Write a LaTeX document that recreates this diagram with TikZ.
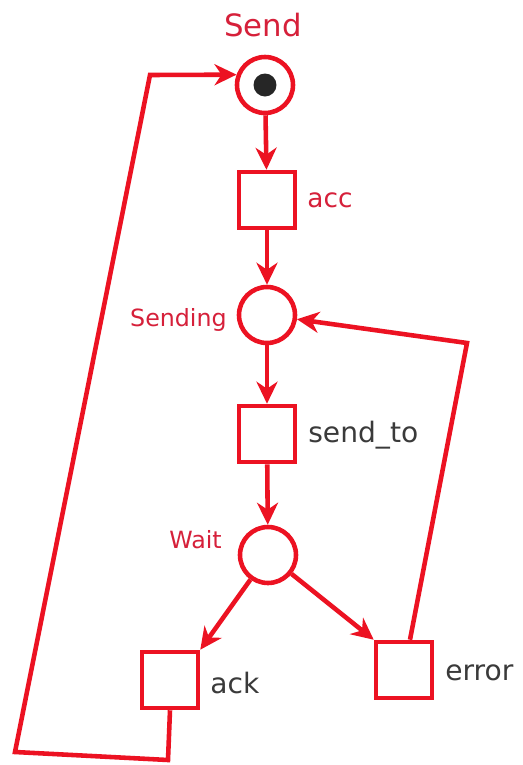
\documentclass[tikz,border=0pt]{standalone}
\usepackage{fontspec}
\setmainfont{DejaVu Sans}
\usetikzlibrary{arrows.meta,positioning,calc}
\definecolor{netred}{RGB}{236,18,34}
\definecolor{labelred}{RGB}{214,32,58}
\definecolor{fontgray}{RGB}{58,58,58}

\begin{document}
\begin{tikzpicture}[x=0.02cm, y=-0.02cm, >={Stealth[length=4.4mm, width=4.2mm, inset=1.4mm]},
	placeNode/.style={circle, draw=netred, fill=white, line width=2.6pt, minimum size=1.12cm, inner sep=0pt},
	transNode/.style={rectangle, draw=netred, fill=white, line width=2.6pt, minimum size=1.12cm, inner sep=0pt},
	tokenDot/.style={circle, fill=black!85, minimum size=0.46cm, inner sep=0pt},
	arcLine/.style={line width=2.6pt, color=netred, ->},
	redLabel/.style={text=labelred, inner sep=0pt},
	grayLabel/.style={text=fontgray, inner sep=0pt}
	]
	\path[fill=white] (0,0) rectangle (523,765);

	\node[placeNode] (send) at (265,85) {};
	\node[tokenDot] (tok) at (send.center) {};
	\node[transNode] (acc) at (267,200) {};
	\node[placeNode] (sending) at (267,315) {};
	\node[transNode] (sendto) at (267,434) {};
	\node[placeNode] (wait) at (268,555) {};
	\node[transNode] (ack) at (170,680) {};
	\node[transNode] (error) at (404,670) {};

	\node[redLabel, font=\fontsize{17.5}{20}\selectfont] (sendLbl) at (263,25) {Send};
	\node[redLabel, anchor=west, font=\fontsize{15}{18}\selectfont] (accLbl) at (307,200) {acc};
	\node[redLabel, anchor=east, font=\fontsize{13.5}{16}\selectfont] (sendingLbl) at (227,320) {Sending};
	\node[grayLabel, anchor=west, font=\fontsize{16}{19}\selectfont] (sendtoLbl) at (308,435) {send\_to};
	\node[redLabel, anchor=east, font=\fontsize{13.5}{16}\selectfont] (waitLbl) at (222,540) {Wait};
	\node[grayLabel, anchor=west, font=\fontsize{16}{19}\selectfont] (ackLbl) at (210,683) {ack};
	\node[grayLabel, anchor=west, font=\fontsize{16}{19}\selectfont] (errorLbl) at (445,673) {error};

	\coordinate (ackLow) at (168,760);
	\coordinate (loopBL) at (15,752);
	\coordinate (loopTL) at (150,75);
	\coordinate (errBend) at (467,343);

	\draw [arcLine] (send) -- (acc);
	\draw [arcLine] (acc) -- (sending);
	\draw [arcLine] (sending) -- (sendto);
	\draw [arcLine] (sendto) -- (wait);
	\draw [arcLine] (wait) -- (ack.north east);
	\draw [arcLine] (wait) -- (error.north west);
	\draw [arcLine] ([xshift=0.12cm]error.north) -- (errBend) -- (sending);
	\draw [arcLine] (ack.south) -- (ackLow) -- (loopBL) -- (loopTL) -- (send.160);
\end{tikzpicture}
\end{document}
